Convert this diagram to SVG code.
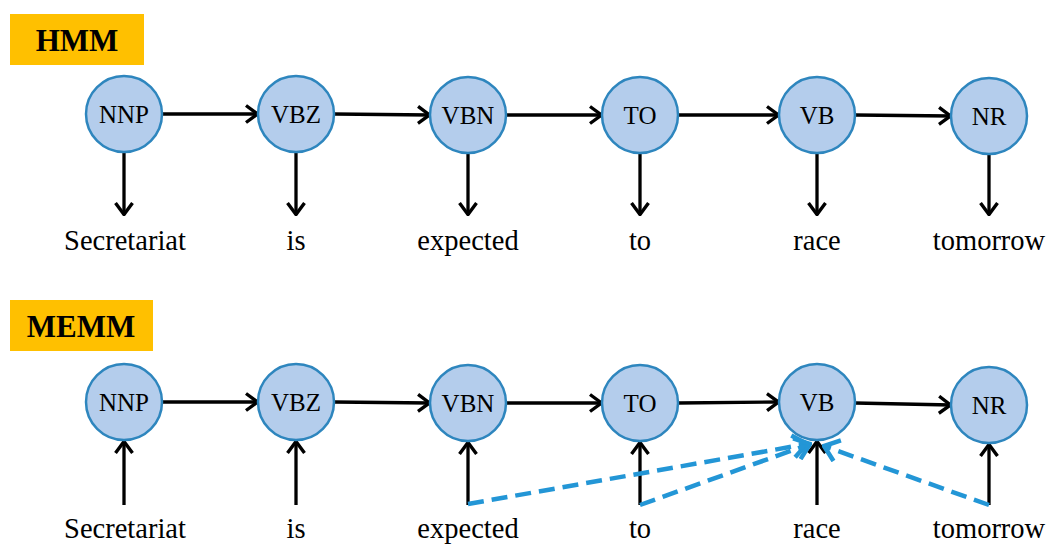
<svg xmlns="http://www.w3.org/2000/svg" width="1056" height="558" viewBox="0 0 1056 558">
<defs>
<style>
.node{fill:#B4CDEC;stroke:#2E86BE;stroke-width:2.5}
.lbl{font-family:"Liberation Serif","Times New Roman",serif;font-size:25px;fill:#000;text-anchor:middle}
.word{font-family:"Liberation Serif","Times New Roman",serif;font-size:28.5px;fill:#000;text-anchor:middle}
.title{font-family:"Liberation Serif","Times New Roman",serif;font-size:31px;font-weight:bold;fill:#000;text-anchor:middle}
.arr{stroke:#000;stroke-width:3.3;fill:none;marker-end:url(#ah)}
.dash{stroke:#2396D6;stroke-width:4.5;fill:none;stroke-dasharray:16 8;marker-end:url(#bh)}
</style>
<marker id="ah" viewBox="0 0 14 20" refX="13" refY="10" markerWidth="14" markerHeight="20" markerUnits="userSpaceOnUse" orient="auto">
<path d="M1,1.5 L12.5,10 L1,18.5" fill="none" stroke="#000" stroke-width="3.4"/>
</marker>
<marker id="bh" viewBox="0 0 18 26" refX="16" refY="13" markerWidth="18" markerHeight="26" markerUnits="userSpaceOnUse" orient="auto">
<path d="M2,2 L16,13 L2,24" fill="none" stroke="#2396D6" stroke-width="4.5"/>
</marker>
</defs>
<rect width="1056" height="558" fill="#fff"/>

<g id="title-hmm">
<rect x="10" y="14" width="134" height="51" fill="#FFC000"/>
<text class="title" x="77" y="51">HMM</text>
</g>
<g id="title-memm">
<rect x="10" y="300" width="143" height="51" fill="#FFC000"/>
<text class="title" x="81" y="337">MEMM</text>
</g>

<g id="connectors">
<line class="arr" x1="162" y1="114" x2="258" y2="114"/>
<line class="arr" x1="334" y1="114" x2="430" y2="115"/>
<line class="arr" x1="506" y1="115" x2="602" y2="115"/>
<line class="arr" x1="678" y1="115" x2="779" y2="115"/>
<line class="arr" x1="855" y1="115" x2="951" y2="116"/>
<line class="arr" x1="124" y1="152" x2="124" y2="215"/>
<line class="arr" x1="296" y1="152" x2="296" y2="215"/>
<line class="arr" x1="468" y1="153" x2="468" y2="215"/>
<line class="arr" x1="640" y1="153" x2="640" y2="215"/>
<line class="arr" x1="817" y1="153" x2="817" y2="215"/>
<line class="arr" x1="989" y1="155" x2="989" y2="215"/>
<line class="arr" x1="162" y1="402" x2="258" y2="402"/>
<line class="arr" x1="334" y1="402" x2="430" y2="403"/>
<line class="arr" x1="506" y1="403" x2="602" y2="403"/>
<line class="arr" x1="678" y1="403" x2="779" y2="402"/>
<line class="arr" x1="855" y1="403" x2="951" y2="405"/>
<line class="arr" x1="124" y1="505" x2="124" y2="441"/>
<line class="arr" x1="296" y1="505" x2="296" y2="441"/>
<line class="arr" x1="468" y1="505" x2="468" y2="442"/>
<line class="arr" x1="640" y1="505" x2="640" y2="442"/>
<line class="arr" x1="817" y1="505" x2="817" y2="441"/>
<line class="arr" x1="989" y1="505" x2="989" y2="444"/>
<line class="dash" x1="468" y1="504" x2="807" y2="444"/>
<line class="dash" x1="640" y1="505" x2="810" y2="444"/>
<line class="dash" x1="989" y1="505" x2="824" y2="446"/>
</g>

<g id="hmm-NNP"><circle class="node" cx="124" cy="114" r="38"/><text class="lbl" x="124" y="123">NNP</text></g>
<g id="hmm-VBZ"><circle class="node" cx="296" cy="114" r="38"/><text class="lbl" x="296" y="123">VBZ</text></g>
<g id="hmm-VBN"><circle class="node" cx="468" cy="115" r="38"/><text class="lbl" x="468" y="124">VBN</text></g>
<g id="hmm-TO"><circle class="node" cx="640" cy="115" r="38"/><text class="lbl" x="640" y="124">TO</text></g>
<g id="hmm-VB"><circle class="node" cx="817" cy="115" r="38"/><text class="lbl" x="817" y="124">VB</text></g>
<g id="hmm-NR"><circle class="node" cx="989" cy="116" r="38"/><text class="lbl" x="989" y="125">NR</text></g>

<g id="hmm-words">
<text class="word" x="125" y="250">Secretariat</text>
<text class="word" x="296" y="250">is</text>
<text class="word" x="468" y="250">expected</text>
<text class="word" x="640" y="250">to</text>
<text class="word" x="817" y="250">race</text>
<text class="word" x="989" y="250">tomorrow</text>
</g>

<g id="memm-NNP"><circle class="node" cx="124" cy="402" r="38"/><text class="lbl" x="124" y="411">NNP</text></g>
<g id="memm-VBZ"><circle class="node" cx="296" cy="402" r="38"/><text class="lbl" x="296" y="411">VBZ</text></g>
<g id="memm-VBN"><circle class="node" cx="468" cy="403" r="38"/><text class="lbl" x="468" y="412">VBN</text></g>
<g id="memm-TO"><circle class="node" cx="640" cy="403" r="38"/><text class="lbl" x="640" y="412">TO</text></g>
<g id="memm-VB"><circle class="node" cx="817" cy="402" r="38"/><text class="lbl" x="817" y="411">VB</text></g>
<g id="memm-NR"><circle class="node" cx="989" cy="405" r="38"/><text class="lbl" x="989" y="414">NR</text></g>

<g id="memm-words">
<text class="word" x="125" y="538">Secretariat</text>
<text class="word" x="296" y="538">is</text>
<text class="word" x="468" y="538">expected</text>
<text class="word" x="640" y="538">to</text>
<text class="word" x="817" y="538">race</text>
<text class="word" x="989" y="538">tomorrow</text>
</g>
</svg>
